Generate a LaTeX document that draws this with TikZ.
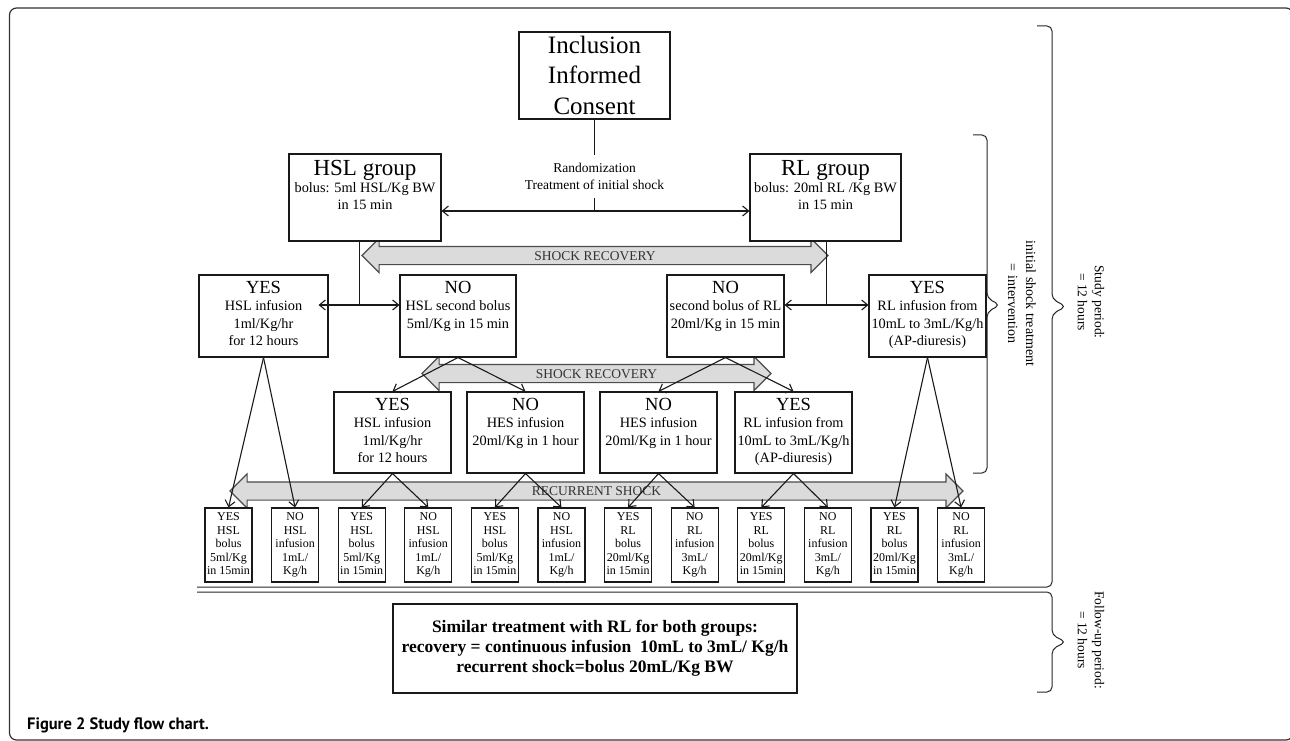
\documentclass[tikz,border=0pt]{standalone}
\usepackage{fontspec}
\setmainfont{Liberation Serif}
\newfontfamily\capfont{PT Sans}
\usetikzlibrary{arrows.meta,shapes.arrows}
% box text: width, height, first baseline, lines
\newcommand{\boxtxt}[4]{\parbox[c][#2][t]{#1}{\centering\rule{0pt}{#3}#4\par}}
\newcommand{\yn}[1]{{\fontsize{18.5}{17}\selectfont #1}}

\begin{document}
\begin{tikzpicture}[x=1pt,y=-1pt,>={Straight Barb[length=6pt,width=10pt]}]
    \tikzset{box/.style = {draw=black!90, line width=1.1pt, fill=white, inner sep=0pt, font=\fontsize{14.3}{17.3}\selectfont}}
    \tikzset{tinybox/.style = {box, font=\fontsize{12}{13.5}\selectfont}}
    \tikzset{shock/.style = {double arrow, draw=black!70, fill=black!14, line width=1.1pt, double arrow head extend=8pt, inner xsep=2pt, inner ysep=4pt, text height=9pt, text depth=0pt, text=black!80, font=\fontsize{13.5}{13.5}\selectfont}}
    \tikzset{conn/.style = {draw=black!90, line width=1.1pt}}
    \tikzset{brace/.style = {draw=black!85, line width=1pt, rounded corners=5pt}}
    \tikzset{side/.style = {rotate=-90, align=center, font=\fontsize{13.5}{17}\selectfont}}
    \useasboundingbox (0,0) rectangle (1290,741);
    % frame
    \draw[black!80, line width=1.2pt, rounded corners=7pt] (9.5,8) rectangle (1293,740);
    % periods
    \draw[brace] (1037,26) -- (1052,26) -- (1052,299) -- (1066,306.5) -- (1052,314) -- (1052,587) -- (197,587);
    \draw[brace] (973,135) -- (987,135) -- (987,298) -- (1000,305) -- (987,312) -- (987,473) -- (973,473);
    \draw[brace] (197,592) -- (1052,592) -- (1052,635) -- (1066,642) -- (1052,649) -- (1052,692) -- (1037,692);
    \node[side, font=\fontsize{14}{18}\selectfont] (intv) at (1022,303.5) {initial shock treatment\\= intervention};
    \node[side] (study) at (1091,302) {Study period:\\= 12 hours};
    \node[side] (follow) at (1091,640) {Follow-up period:\\= 12 hours};
    % shock arrows
    \node[shock, minimum height=466pt] (rec1) at (595,255.5) {SHOCK RECOVERY};
    \node[shock, minimum height=349pt] (rec2) at (596.5,373.5) {SHOCK RECOVERY};
    \node[shock, minimum height=733pt] (rec3) at (596.5,491) {RECURRENT SHOCK};
    % top
    \node[box, font=\fontsize{25}{30.5}\selectfont] (incl) at (594.5,75.5) {\boxtxt{151pt}{87pt}{21.3pt}{Inclusion\\Informed\\Consent}};
    \node[align=center, inner ysep=8pt, font=\fontsize{13.5}{16.5}\selectfont] (rand) at (594.5,176.5) {Randomization\\Treatment of initial shock};
    \node[box] (hsl) at (365,197.5) {\boxtxt{152pt}{87pt}{21pt}{{\fontsize{23}{22}\selectfont HSL group}\\bolus: 5ml HSL/Kg BW\\in 15 min}};
    \node[box] (rl) at (825.5,197.5) {\boxtxt{151pt}{87pt}{21pt}{{\fontsize{23}{22}\selectfont RL group}\\bolus: 20ml RL /Kg BW\\in 15 min}};
    % first response
    \node[box] (yes1) at (263.5,316) {\boxtxt{129pt}{82pt}{18.5pt}{\yn{YES}\\HSL infusion\\1ml/Kg/hr\\for 12 hours}};
    \node[box] (no1) at (458,316) {\boxtxt{116pt}{82pt}{18.5pt}{\yn{NO}\\HSL second bolus\\5ml/Kg in 15 min}};
    \node[box] (no2) at (725.5,316) {\boxtxt{117pt}{82pt}{18.5pt}{\yn{NO}\\second bolus of RL\\20ml/Kg in 15 min}};
    \node[box] (yes2) at (927.5,316) {\boxtxt{117pt}{82pt}{18.5pt}{\yn{YES}\\RL infusion from\\10mL to 3mL/Kg/h\\(AP-diuresis)}};
    % second response
    \node[box] (yes3) at (392.5,432.5) {\boxtxt{117pt}{81pt}{18.5pt}{\yn{YES}\\HSL infusion\\1ml/Kg/hr\\for 12 hours}};
    \node[box] (no3) at (525.5,432.5) {\boxtxt{117pt}{81pt}{18.5pt}{\yn{NO}\\HES infusion\\20ml/Kg in 1 hour}};
    \node[box] (no4) at (658.5,432.5) {\boxtxt{117pt}{81pt}{18.5pt}{\yn{NO}\\HES infusion\\20ml/Kg in 1 hour}};
    \node[box] (yes4) at (793.5,432.5) {\boxtxt{117pt}{81pt}{18.5pt}{\yn{YES}\\RL infusion from\\10mL to 3mL/Kg/h\\(AP-diuresis)}};
    % recurrent shock
    \node[tinybox] (b1) at (228.5,545) {\boxtxt{47pt}{74pt}{12.5pt}{YES\\HSL\\bolus\\5ml/Kg\\in 15min}};
    \node[tinybox] (b2) at (295.1,545) {\boxtxt{47pt}{74pt}{12.5pt}{NO\\HSL\\infusion\\1mL/\\Kg/h}};
    \node[tinybox] (b3) at (361.7,545) {\boxtxt{47pt}{74pt}{12.5pt}{YES\\HSL\\bolus\\5ml/Kg\\in 15min}};
    \node[tinybox] (b4) at (428.3,545) {\boxtxt{47pt}{74pt}{12.5pt}{NO\\HSL\\infusion\\1mL/\\Kg/h}};
    \node[tinybox] (b5) at (494.9,545) {\boxtxt{47pt}{74pt}{12.5pt}{YES\\HSL\\bolus\\5ml/Kg\\in 15min}};
    \node[tinybox] (b6) at (561.5,545) {\boxtxt{47pt}{74pt}{12.5pt}{NO\\HSL\\infusion\\1mL/\\Kg/h}};
    \node[tinybox] (b7) at (628.1,545) {\boxtxt{47pt}{74pt}{12.5pt}{YES\\RL\\bolus\\20ml/Kg\\in 15min}};
    \node[tinybox] (b8) at (694.7,545) {\boxtxt{47pt}{74pt}{12.5pt}{NO\\RL\\infusion\\3mL/\\Kg/h}};
    \node[tinybox] (b9) at (761.3,545) {\boxtxt{47pt}{74pt}{12.5pt}{YES\\RL\\bolus\\20ml/Kg\\in 15min}};
    \node[tinybox] (b10) at (827.9,545) {\boxtxt{47pt}{74pt}{12.5pt}{NO\\RL\\infusion\\3mL/\\Kg/h}};
    \node[tinybox] (b11) at (894.5,545) {\boxtxt{47pt}{74pt}{12.5pt}{YES\\RL\\bolus\\20ml/Kg\\in 15min}};
    \node[tinybox] (b12) at (961.1,545) {\boxtxt{47pt}{74pt}{12.5pt}{NO\\RL\\infusion\\3mL/\\Kg/h}};
    % follow-up
    \node[box, align=center, minimum width=404pt, minimum height=89pt, font=\bfseries\fontsize{17.5}{20}\selectfont] (similar) at (595,648.5) {Similar treatment with RL for both groups:\\recovery = continuous infusion~~10mL to 3mL/ Kg/h\\recurrent shock=bolus 20mL/Kg BW};
    \node[anchor=base west, inner sep=0pt, font=\capfont\bfseries\fontsize{16.5}{20}\selectfont] (fig) at (27,729) {Figure 2 Study flow chart.};
    % connectors
    \coordinate (rmid) at (594.5,211);
    \coordinate (j1) at (359.3,305);
    \coordinate (j2) at (826.7,305);
    \draw[conn] (incl.south) -- (rand.north);
    \draw[conn] (rand.south) -- (rmid);
    \draw[conn,<->] (hsl.east |- rmid) -- (rl.west |- rmid);
    \draw[conn] (hsl.south -| j1) -- (j1);
    \draw[conn] (rl.south -| j2) -- (j2);
    \draw[conn,<->,shorten <=-10pt] (yes1.east |- j1) -- (no1.west |- j1);
    \draw[conn,<->] (no2.east |- j2) -- (yes2.west |- j2);
    \draw[conn,->] (no1.south) -- (yes3.north);
    \draw[conn,->] (no1.south) -- (no3.north);
    \draw[conn,->] (no2.south) -- (no4.north);
    \draw[conn,->] (no2.south) -- (yes4.north);
    \draw[conn,->] (yes1.south) -- (b1.north);
    \draw[conn,->] (yes1.south) -- (b2.north);
    \draw[conn,->] (yes3.south) -- (b3.north);
    \draw[conn,->] (yes3.south) -- (b4.north);
    \draw[conn,->] (no3.south) -- (b5.north);
    \draw[conn,->] (no3.south) -- (b6.north);
    \draw[conn,->] (no4.south) -- (b7.north);
    \draw[conn,->] (no4.south) -- (b8.north);
    \draw[conn,->] (yes4.south) -- (b9.north);
    \draw[conn,->] (yes4.south) -- (b10.north);
    \draw[conn,->] (yes2.south) -- (b11.north);
    \draw[conn,->] (yes2.south) -- (b12.north);
\end{tikzpicture}
\end{document}
